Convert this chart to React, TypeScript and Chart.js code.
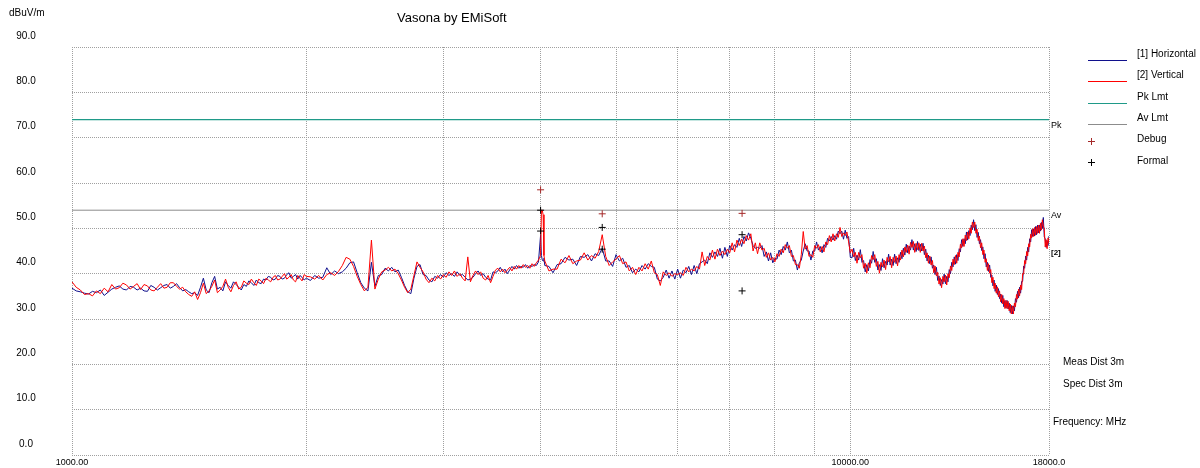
import React, { useEffect, useRef } from "react";
import { Chart, registerables } from "chart.js";

Chart.register(...registerables);

// ---------- data ----------
const FREQ_MHZ: number[] = [
  // 1000 - 2000
  1000, 1012.5, 1025, 1037.5, 1050, 1062.5, 1075, 1087.5, 1100, 1112.5,
  1125, 1137.5, 1150, 1162.5, 1175, 1187.5, 1200, 1212.5, 1225, 1237.5,
  1250, 1262.5, 1275, 1287.5, 1300, 1312.5, 1325, 1337.5, 1350, 1362.5,
  1375, 1387.5, 1400, 1412.5, 1425, 1437.5, 1450, 1462.5, 1475, 1487.5,
  1500, 1512.5, 1525, 1537.5, 1550, 1562.5, 1575, 1587.5, 1600, 1612.5,
  1625, 1637.5, 1650, 1662.5, 1675, 1687.5, 1700, 1712.5, 1725, 1737.5,
  1750, 1762.5, 1775, 1787.5, 1800, 1812.5, 1825, 1837.5, 1850, 1862.5,
  1875, 1887.5, 1900, 1912.5, 1925, 1937.5, 1950, 1962.5, 1975, 1987.5,
  2000,
  // 2025 - 4040
  2025, 2050, 2075, 2100, 2125, 2150, 2175, 2200, 2225, 2250,
  2275, 2300, 2325, 2350, 2375, 2400, 2425, 2450, 2475, 2500,
  2525, 2550, 2575, 2600, 2625, 2650, 2675, 2700, 2725, 2750,
  2775, 2800, 2825, 2850, 2875, 2900, 2925, 2950, 2975, 3000,
  3025, 3050, 3075, 3100, 3125, 3150, 3175, 3200, 3225, 3250,
  3275, 3300, 3325, 3350, 3375, 3400, 3425, 3450, 3475, 3500,
  3525, 3550, 3575, 3600, 3625, 3650, 3675, 3700, 3725, 3750,
  3775, 3800, 3825, 3850, 3875, 3900, 3925, 3950, 3975, 4000,
  4010, 4020, 4030, 4040,
  // 4050 - 10000
  4050, 4100, 4150, 4200, 4250, 4300, 4350, 4400, 4450, 4500,
  4550, 4600, 4650, 4700, 4750, 4800, 4850, 4900, 4950, 5000,
  5050, 5100, 5150, 5200, 5250, 5300, 5350, 5400, 5450, 5500,
  5550, 5600, 5650, 5700, 5750, 5800, 5850, 5900, 5950, 6000,
  6050, 6100, 6150, 6200, 6250, 6300, 6350, 6400, 6450, 6500,
  6550, 6600, 6650, 6700, 6750, 6800, 6850, 6900, 6950, 7000,
  7050, 7100, 7150, 7200, 7250, 7300, 7350, 7400, 7450, 7500,
  7550, 7600, 7650, 7700, 7750, 7800, 7850, 7900, 7950, 8000,
  8050, 8100, 8150, 8200, 8250, 8300, 8350, 8400, 8450, 8500,
  8550, 8600, 8650, 8700, 8750, 8800, 8850, 8900, 8950, 9000,
  9050, 9100, 9150, 9200, 9250, 9300, 9350, 9400, 9450, 9500,
  9550, 9600, 9650, 9700, 9750, 9800, 9850, 9900, 9950, 10000,
  // 10050 - 18000
  10050, 10100, 10150, 10200, 10250, 10300, 10350, 10400, 10450, 10500,
  10550, 10600, 10650, 10700, 10750, 10800, 10850, 10900, 10950, 11000,
  11050, 11100, 11150, 11200, 11250, 11300, 11350, 11400, 11450, 11500,
  11550, 11600, 11650, 11700, 11750, 11800, 11850, 11900, 11950, 12000,
  12050, 12100, 12150, 12200, 12250, 12300, 12350, 12400, 12450, 12500,
  12550, 12600, 12650, 12700, 12750, 12800, 12850, 12900, 12950, 13000,
  13050, 13100, 13150, 13200, 13250, 13300, 13350, 13400, 13450, 13500,
  13550, 13600, 13650, 13700, 13750, 13800, 13850, 13900, 13950, 14000,
  14050, 14100, 14150, 14200, 14250, 14300, 14350, 14400, 14450, 14500,
  14550, 14600, 14650, 14700, 14750, 14800, 14850, 14900, 14950, 15000,
  15050, 15100, 15150, 15200, 15250, 15300, 15350, 15400, 15450, 15500,
  15550, 15600, 15650, 15700, 15750, 15800, 15850, 15900, 15950, 16000,
  16050, 16100, 16150, 16200, 16250, 16300, 16350, 16400, 16450, 16500,
  16550, 16600, 16650, 16700, 16750, 16800, 16850, 16900, 16950, 17000,
  17050, 17100, 17150, 17200, 17250, 17300, 17350, 17400, 17450, 17500,
  17550, 17600, 17650, 17700, 17750, 17800, 17850, 17900, 17950, 18000,
];

// [1] Horizontal (dBuV/m)
const HORIZONTAL: number[] = [
  36.8, 36.2, 36.0, 35.7, 35.5, 36.1, 35.8, 36.4, 35.2, 35.9,
  36.6, 37.0, 37.3, 36.6, 36.4, 37.2, 37.0, 36.4, 36.8, 36.2,
  36.1, 37.4, 37.0, 36.4, 36.9, 37.4, 37.6, 36.8, 37.2, 37.8,
  36.9, 36.2, 36.5, 36.0, 35.6, 35.8, 35.2, 37.0, 39.0, 36.4,
  35.8, 38.0, 39.4, 36.6, 37.0, 36.2, 38.2, 37.4, 36.8, 38.2,
  37.6, 37.0, 36.4, 37.6, 37.2, 38.4, 38.0, 37.4, 38.6, 38.0,
  37.8, 38.8, 38.6, 39.4, 39.2, 38.6, 38.8, 39.6, 39.4, 38.8,
  39.0, 39.8, 40.2, 39.0, 39.4, 39.8, 38.8, 39.6, 39.2, 38.6,
  39.0,
  38.5, 39.6, 39.0, 39.2, 41.3, 39.8, 40.6, 40.0, 40.4, 41.2,
  42.4, 42.6, 40.2, 38.0, 36.8, 36.2, 42.5, 37.2, 39.6, 39.8,
  41.2, 40.6, 41.4, 40.4, 40.8, 39.2, 37.4, 36.0, 35.6, 39.0,
  41.6, 42.0, 39.8, 39.6, 38.6, 38.2, 39.4, 39.0, 39.8, 39.2,
  40.2, 39.6, 40.0, 39.4, 40.4, 39.6, 39.8, 39.2, 38.6, 38.8,
  39.2, 40.0, 40.6, 39.6, 40.0, 39.2, 38.8, 38.6, 40.4, 40.2,
  40.6, 41.4, 40.4, 41.0, 40.0, 40.8, 41.6, 41.0, 41.8, 41.2,
  41.6, 41.4, 42.0, 41.2, 41.8, 41.6, 42.0, 41.8, 42.6, 48.5,
  44.0, 43.0, 42.8, 43.4,
  41.8, 41.6, 40.2, 42.0, 42.2, 43.6, 43.0, 43.2, 41.8, 43.8,
  43.6, 44.2, 42.8, 44.4, 44.0, 45.6, 42.8, 42.8, 41.6, 44.2,
  42.8, 43.4, 41.4, 41.8, 40.2, 41.0, 40.4, 41.8, 41.0, 42.2,
  41.6, 41.4, 38.8, 38.4, 39.2, 40.8, 39.0, 40.6, 38.8, 41.0,
  39.0, 40.8, 40.2, 41.6, 39.8, 41.8, 40.0, 42.2, 42.6, 43.0,
  42.2, 44.6, 43.6, 44.8, 43.8, 45.6, 43.4, 45.8, 43.8, 46.2,
  45.2, 46.4, 45.8, 47.8, 46.0, 48.2, 47.2, 49.0, 47.8, 46.2,
  45.6, 45.8, 45.6, 46.2, 43.8, 44.8, 42.8, 44.6, 42.4, 43.4,
  43.2, 45.2, 44.2, 46.0, 45.2, 47.0, 44.6, 45.2, 42.8, 43.0,
  40.8, 42.4, 43.0, 45.0, 46.6, 45.0, 45.0, 43.0, 45.0, 45.0,
  47.0, 45.2, 46.0, 44.6, 46.4, 45.8, 47.8, 47.2, 48.2, 47.4,
  48.4, 47.6, 49.4, 48.8, 49.4, 47.6, 49.6, 47.8, 48.2, 43.6,
  43.5, 45.6, 42.9, 44.1, 43.0, 45.3, 42.5, 42.9, 40.4, 42.0,
  40.6, 43.1, 42.3, 44.9, 42.5, 43.3, 40.8, 42.0, 40.7, 43.3,
  41.3, 42.7, 41.9, 44.3, 41.9, 43.2, 41.8, 44.3, 42.2, 43.5,
  42.5, 44.7, 43.3, 45.6, 44.1, 46.5, 44.6, 46.1, 45.2, 47.5,
  45.2, 46.6, 44.9, 47.1, 45.1, 46.5, 45.0, 46.7, 44.2, 45.4,
  42.8, 44.1, 42.2, 43.7, 41.2, 41.9, 39.8, 41.4, 38.5, 39.5,
  37.4, 38.7, 37.7, 39.9, 37.8, 39.4, 38.2, 40.9, 40.0, 42.5,
  41.5, 43.7, 42.1, 44.2, 42.9, 45.5, 44.8, 47.5, 46.0, 47.7,
  46.6, 49.2, 47.4, 49.5, 48.4, 50.7, 49.7, 51.9, 49.5, 50.8,
  48.0, 49.1, 46.6, 47.5, 45.1, 45.9, 43.3, 44.4, 41.5, 42.5,
  40.5, 41.9, 39.2, 39.7, 37.3, 38.6, 36.1, 37.5, 35.4, 36.7,
  34.5, 35.5, 33.5, 35.2, 32.7, 34.1, 32.4, 34.1, 32.2, 33.5,
  31.4, 33.0, 31.1, 32.9, 31.8, 34.5, 33.7, 36.1, 34.7, 37.0,
  35.7, 38.3, 38.3, 41.7, 41.2, 43.9, 43.0, 45.8, 44.8, 47.7,
  47.0, 49.7, 48.2, 49.9, 48.3, 50.4, 48.6, 50.7, 49.0, 50.7,
  49.4, 51.3, 50.0, 52.4, 48.1, 47.7, 45.8, 47.3, 46.2, 48.3,
];

// [2] Vertical (dBuV/m)
const VERTICAL: number[] = [
  38.2, 37.0, 36.4, 35.4, 35.6, 35.1, 36.2, 35.6, 36.8, 36.0,
  37.6, 36.6, 36.9, 37.9, 37.5, 36.6, 37.2, 37.8, 36.5, 37.6,
  37.3, 36.4, 36.2, 37.0, 37.8, 36.8, 37.0, 38.0, 38.0, 37.2,
  36.6, 37.0, 36.0, 35.4, 35.0, 36.0, 34.3, 35.8, 37.9, 35.6,
  36.2, 37.2, 38.6, 35.8, 36.4, 37.2, 38.8, 37.0, 36.0, 37.4,
  38.2, 36.6, 37.0, 38.4, 37.9, 37.6, 38.8, 38.0, 37.4, 38.8,
  38.4, 37.8, 39.0, 38.6, 38.2, 39.2, 39.6, 38.6, 38.8, 39.4,
  40.0, 38.8, 39.2, 39.8, 38.6, 38.2, 39.6, 39.0, 38.4, 39.8,
  39.4,
  39.3, 38.8, 39.6, 38.6, 39.8, 40.2, 39.6, 40.5, 41.8, 43.6,
  43.2, 41.6, 39.4, 37.6, 36.2, 37.0, 47.4, 36.6, 38.8, 40.4,
  40.8, 41.4, 40.6, 41.0, 40.0, 38.6, 37.0, 35.8, 36.6, 39.6,
  42.6, 41.4, 40.4, 38.8, 38.0, 39.0, 38.4, 39.6, 38.8, 39.8,
  39.2, 40.4, 39.6, 40.6, 39.4, 40.0, 39.0, 38.4, 43.7, 38.2,
  39.6, 40.6, 39.8, 40.4, 39.0, 38.6, 39.6, 38.0, 39.4, 40.8,
  41.2, 40.4, 41.0, 40.2, 40.8, 41.4, 40.6, 41.6, 41.0, 41.8,
  41.2, 42.0, 41.4, 41.8, 41.2, 42.2, 41.6, 42.4, 43.0, 44.0,
  54.0, 54.0, 53.0, 44.0,
  42.8, 40.6, 41.0, 41.0, 43.2, 42.4, 44.0, 42.2, 42.8, 43.0,
  44.6, 43.0, 44.0, 43.4, 44.9, 48.6, 43.8, 41.8, 42.6, 43.2,
  44.0, 42.2, 42.6, 40.6, 41.4, 39.8, 41.4, 40.6, 42.2, 41.0,
  42.8, 40.2, 39.8, 37.4, 40.4, 39.6, 40.2, 39.4, 40.0, 39.8,
  40.2, 39.6, 41.4, 40.4, 41.0, 40.6, 41.6, 41.0, 44.8, 41.8,
  43.8, 43.0, 45.2, 43.2, 45.4, 44.0, 45.0, 44.2, 45.4, 44.6,
  46.8, 44.8, 47.4, 46.2, 47.6, 46.6, 48.4, 47.4, 48.8, 45.0,
  46.8, 44.4, 46.8, 45.2, 45.6, 43.6, 44.6, 43.0, 43.6, 42.6,
  44.4, 43.8, 45.4, 44.6, 46.4, 45.6, 46.2, 43.8, 44.0, 42.0,
  42.0, 41.2, 44.2, 49.3, 45.4, 46.2, 43.8, 44.2, 43.6, 46.2,
  45.6, 46.4, 44.8, 46.0, 44.8, 47.0, 46.4, 48.4, 47.0, 48.8,
  47.2, 48.8, 48.0, 50.2, 48.2, 49.0, 48.4, 49.2, 47.0, 44.6,
  45.4, 43.7, 44.7, 42.3, 44.7, 43.5, 44.2, 41.2, 42.3, 40.1,
  42.4, 41.3, 44.0, 43.1, 44.2, 41.6, 42.7, 40.1, 42.5, 41.5,
  43.0, 40.9, 43.6, 42.6, 43.8, 41.3, 43.6, 42.5, 43.9, 41.7,
  44.2, 43.0, 45.2, 43.7, 45.9, 44.7, 46.3, 44.3, 46.9, 45.8,
  47.1, 44.7, 46.7, 45.3, 46.8, 44.7, 46.7, 45.0, 46.1, 43.5,
  44.6, 42.3, 43.9, 41.9, 42.9, 40.2, 41.7, 39.5, 40.3, 37.7,
  39.1, 36.9, 39.4, 38.2, 39.7, 37.5, 40.0, 39.1, 41.7, 40.7,
  43.2, 42.0, 44.0, 42.3, 44.7, 43.7, 46.5, 45.7, 47.7, 46.0,
  48.5, 47.3, 49.2, 47.7, 50.1, 48.9, 51.4, 50.2, 51.4, 48.9,
  49.8, 47.3, 48.3, 45.7, 46.8, 44.2, 45.2, 42.5, 43.3, 40.7,
  42.2, 40.1, 40.9, 38.0, 39.2, 36.7, 37.9, 35.7, 37.1, 34.9,
  36.2, 33.8, 35.4, 33.3, 34.5, 32.3, 34.1, 32.3, 33.9, 31.8,
  33.3, 31.1, 32.9, 31.1, 33.5, 32.7, 35.4, 34.4, 36.6, 35.1,
  37.5, 36.5, 40.0, 39.9, 42.9, 42.2, 44.9, 43.9, 46.6, 45.9,
  48.7, 47.9, 49.9, 48.2, 50.2, 48.5, 50.4, 48.9, 50.7, 48.9,
  51.1, 49.6, 51.9, 50.5, 49.9, 45.9, 47.5, 45.5, 47.9, 46.6,
];

const PK_LIMIT = 74;
const AV_LIMIT = 54;
const LIMIT_FREQ = [1000, 18000];

const DEBUG_FREQ = [4000, 4800, 7260];
const DEBUG_LEVEL = [58.5, 53.2, 53.3];
const FORMAL_FREQ = [4000, 4000, 4800, 4800, 7260, 7260];
const FORMAL_LEVEL = [54.0, 49.4, 50.2, 45.4, 48.6, 36.2];

const X_GRID = [1000, 2000, 3000, 4000, 5000, 6000, 7000, 8000, 9000, 10000, 18000];
const X_LABELS: Record<number, string> = { 1000: "1000.00", 10000: "10000.00", 18000: "18000.0" };

const TITLE = "Vasona by EMiSoft";
const Y_UNIT = "dBuV/m";
const NOTES = ["Meas Dist 3m", "Spec Dist 3m"];
const FREQ_NOTE = "Frequency: MHz";

const C_H = "#10108c";
const C_V = "#ff0000";
const C_PK = "#1f9a88";
const C_AV = "#8c8c8c";
const C_DEBUG = "#a52a2a";
const C_FORMAL = "#000000";

const FONT = '"Liberation Sans", Arial, sans-serif';

const textPlugin = {
  id: "emiText",
  afterDraw(chart: any) {
    const ctx = chart.ctx;
    const y = chart.scales.y;
    ctx.save();
    ctx.setLineDash([]);
    ctx.globalAlpha = 1;
    ctx.globalCompositeOperation = "source-over";
    ctx.fillStyle = "#000";
    ctx.textBaseline = "middle";
    // y tick labels (from the scale's ticks)
    ctx.textAlign = "center";
    ctx.font = `10px ${FONT}`;
    y.ticks.forEach((t: any) => {
      ctx.fillText(Number(t.value).toFixed(1), 26, y.getPixelForValue(t.value) - 11);
    });
    ctx.textAlign = "left";
    // title
    ctx.font = `13px ${FONT}`;
    ctx.fillText(TITLE, 397, 18);
    // unit
    ctx.font = `10px ${FONT}`;
    ctx.fillText(Y_UNIT, 9, 13);
    // limit tags
    ctx.font = `9px ${FONT}`;
    ctx.fillText("Pk", 1051, y.getPixelForValue(PK_LIMIT) + 6);
    ctx.fillText("Av", 1051, y.getPixelForValue(AV_LIMIT) + 5);
    ctx.font = `bold 8px ${FONT}`;
    ctx.fillText("[2]", 1051, y.getPixelForValue(VERTICAL[VERTICAL.length - 1]) + 9);
    // legend
    ctx.font = `10px ${FONT}`;
    const items = [
      { label: "[1] Horizontal", kind: "line", color: C_H },
      { label: "[2] Vertical", kind: "line", color: C_V },
      { label: "Pk Lmt", kind: "line", color: C_PK },
      { label: "Av Lmt", kind: "line", color: C_AV },
      { label: "Debug", kind: "plus", color: C_DEBUG },
      { label: "Formal", kind: "plus", color: C_FORMAL },
    ];
    items.forEach((it, i) => {
      const ty = 54 + i * 21.4;
      ctx.fillStyle = "#000";
      ctx.fillText(it.label, 1137, ty);
      ctx.fillStyle = it.color;
      if (it.kind === "line") {
        ctx.fillRect(1088, Math.round(ty + 6), 39, 1);
      } else {
        const cx = 1091;
        const cy = Math.round(ty + 1);
        ctx.fillRect(cx - 3, cy, 7, 1);
        ctx.fillRect(cx, cy - 3, 1, 7);
      }
    });
    // notes
    ctx.fillStyle = "#000";
    ctx.fillText(NOTES[0], 1063, 362);
    ctx.fillText(NOTES[1], 1063, 384);
    ctx.fillText(FREQ_NOTE, 1053, 422);
    ctx.restore();
  },
};

export default function App() {
  const ref = useRef<HTMLCanvasElement | null>(null);

  useEffect(() => {
    if (!ref.current) return;
    Chart.defaults.font.family = FONT;
    const pts = (xs: number[], ys: number[]) => xs.map((x, i) => ({ x, y: ys[i] }));
    const chart = new Chart(ref.current, {
      type: "line",
      data: {
        datasets: [
          {
            label: "Debug",
            data: pts(DEBUG_FREQ, DEBUG_LEVEL),
            showLine: false,
            pointStyle: "cross",
            pointRadius: 3.5,
            borderColor: C_DEBUG,
            borderWidth: 1,
            order: 0,
          },
          {
            label: "Formal",
            data: pts(FORMAL_FREQ, FORMAL_LEVEL),
            showLine: false,
            pointStyle: "cross",
            pointRadius: 3.5,
            borderColor: C_FORMAL,
            borderWidth: 1,
            order: 0,
          },
          {
            label: "[2] Vertical",
            data: pts(FREQ_MHZ, VERTICAL),
            borderColor: C_V,
            borderWidth: 1,
            pointRadius: 0,
            tension: 0,
            order: 1,
          },
          {
            label: "[1] Horizontal",
            data: pts(FREQ_MHZ, HORIZONTAL),
            borderColor: C_H,
            borderWidth: 1,
            pointRadius: 0,
            tension: 0,
            order: 2,
          },
          {
            label: "Pk Lmt",
            data: pts(LIMIT_FREQ, [PK_LIMIT, PK_LIMIT]),
            borderColor: C_PK,
            borderWidth: 1.2,
            pointRadius: 0,
            order: 3,
          },
          {
            label: "Av Lmt",
            data: pts(LIMIT_FREQ, [AV_LIMIT, AV_LIMIT]),
            borderColor: C_AV,
            borderWidth: 1,
            pointRadius: 0,
            order: 3,
          },
        ],
      },
      options: {
        responsive: false,
        animation: false,
        events: [],
        layout: { padding: { top: 47, right: 151, left: 0, bottom: 0 } },
        plugins: {
          legend: { display: false },
          tooltip: { enabled: false },
          title: { display: false },
        },
        scales: {
          x: {
            type: "logarithmic",
            min: 1000,
            max: 18000,
            afterBuildTicks: (s: any) => {
              s.ticks = X_GRID.map((v) => ({ value: v }));
            },
            afterFit: (s: any) => {
              s.height = 13;
            },
            ticks: {
              autoSkip: false,
              maxRotation: 0,
              minRotation: 0,
              padding: 2,
              color: "#000",
              font: { size: 9 },
              callback: (v: any) => X_LABELS[Number(v)] ?? "",
            },
            grid: { color: "#a0a0a0", drawTicks: false, lineWidth: 1 },
            border: { display: false, dash: [1, 1] },
          },
          y: {
            type: "linear",
            min: 0,
            max: 90,
            afterFit: (s: any) => {
              s.width = 72;
            },
            ticks: {
              display: false,
              stepSize: 10,
            },
            grid: { color: "#a0a0a0", drawTicks: false, lineWidth: 1 },
            border: { display: false, dash: [1, 1] },
          },
        },
      } as any,
      plugins: [textPlugin],
    });
    return () => chart.destroy();
  }, []);

  return (
    <div style={{ position: "fixed", left: 0, top: 0, width: 1200, height: 468, background: "#fff" }}>
      <canvas ref={ref} width={1200} height={468} style={{ display: "block" }} />
    </div>
  );
}
